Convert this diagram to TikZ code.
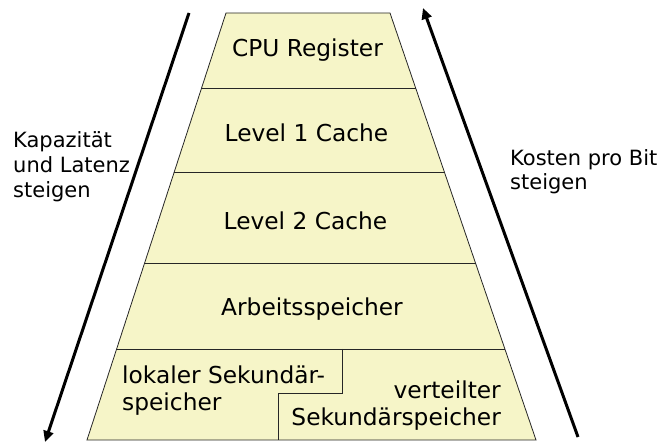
\documentclass[tikz,border=0pt]{standalone}
\usepackage{fontspec}
\setmainfont{DejaVu Sans}
\usetikzlibrary{arrows.meta}
\definecolor{pyrfill}{RGB}{246,245,200}
\tikzset{
  level/.style={font=\fontsize{23.3}{27}\selectfont, inner sep=0pt, anchor=base},
  side/.style={font=\fontsize{21}{25}\selectfont, inner sep=0pt, anchor=base west},
  sep/.style={line width=0.8pt, draw=black!85},
  bigarrow/.style={line width=3pt, -{Triangle[length=11pt,width=10pt]}}
}
\begin{document}
\begin{tikzpicture}[x=1pt,y=-1pt]
\useasboundingbox (0,0) rectangle (661,443);
% corners
\coordinate (TL) at (226,13);
\coordinate (TR) at (390,13);
\coordinate (BL) at (87,440);
\coordinate (BR) at (536,440);
\coordinate (L1) at (201.6,88);  \coordinate (R1) at (415.6,88);
\coordinate (L2) at (174.2,172); \coordinate (R2) at (444.4,172);
\coordinate (L3) at (144.6,263); \coordinate (R3) at (475.5,263);
\coordinate (L4) at (116.6,349); \coordinate (R4) at (504.9,349);
\coordinate (S1) at (342,349); \coordinate (S2) at (342,393);
\coordinate (S3) at (278,393); \coordinate (S4) at (278,440);
% pyramid
\fill[pyrfill] (TL) -- (TR) -- (BR) -- (BL) -- cycle;
\draw[sep] (L1) -- (R1);
\draw[sep] (L2) -- (R2);
\draw[sep] (L3) -- (R3);
\draw[sep] (L4) -- (R4);
\draw[sep] (S1) -- (S2) -- (S3) -- (S4);
\draw[sep] (TL) -- (TR) -- (BR) -- (BL) -- cycle;
% level texts
\node[level] (cpu) at (307.5,57) {CPU Register};
\node[level] (l1) at (306.5,142) {Level 1 Cache};
\node[level] (l2) at (305.5,230) {Level 2 Cache};
\node[level] (ram) at (312,316) {Arbeitsspeicher};
\node[level, anchor=base west] (lok1) at (122,383) {lokaler Sekundär-};
\node[level, anchor=base west] (lok2) at (122,410) {speicher};
\node[level, anchor=base east] (ver1) at (501,398) {verteilter};
\node[level, anchor=base east] (ver2) at (501,425) {Sekundärspeicher};
% side labels
\node[side] (k1) at (13,148) {Kapazität};
\node[side] (k2) at (13,173) {und Latenz};
\node[side] (k3) at (13,198) {steigen};
\node[side] (c1) at (510,166) {Kosten pro Bit};
\node[side] (c2) at (510,190) {steigen};
% arrows
\coordinate (a1s) at (189,13);
\coordinate (a1e) at (45,442);
\coordinate (a2s) at (578,437);
\coordinate (a2e) at (423,8);
\draw[bigarrow] (a1s) -- (a1e);
\draw[bigarrow] (a2s) -- (a2e);
\end{tikzpicture}
\end{document}
